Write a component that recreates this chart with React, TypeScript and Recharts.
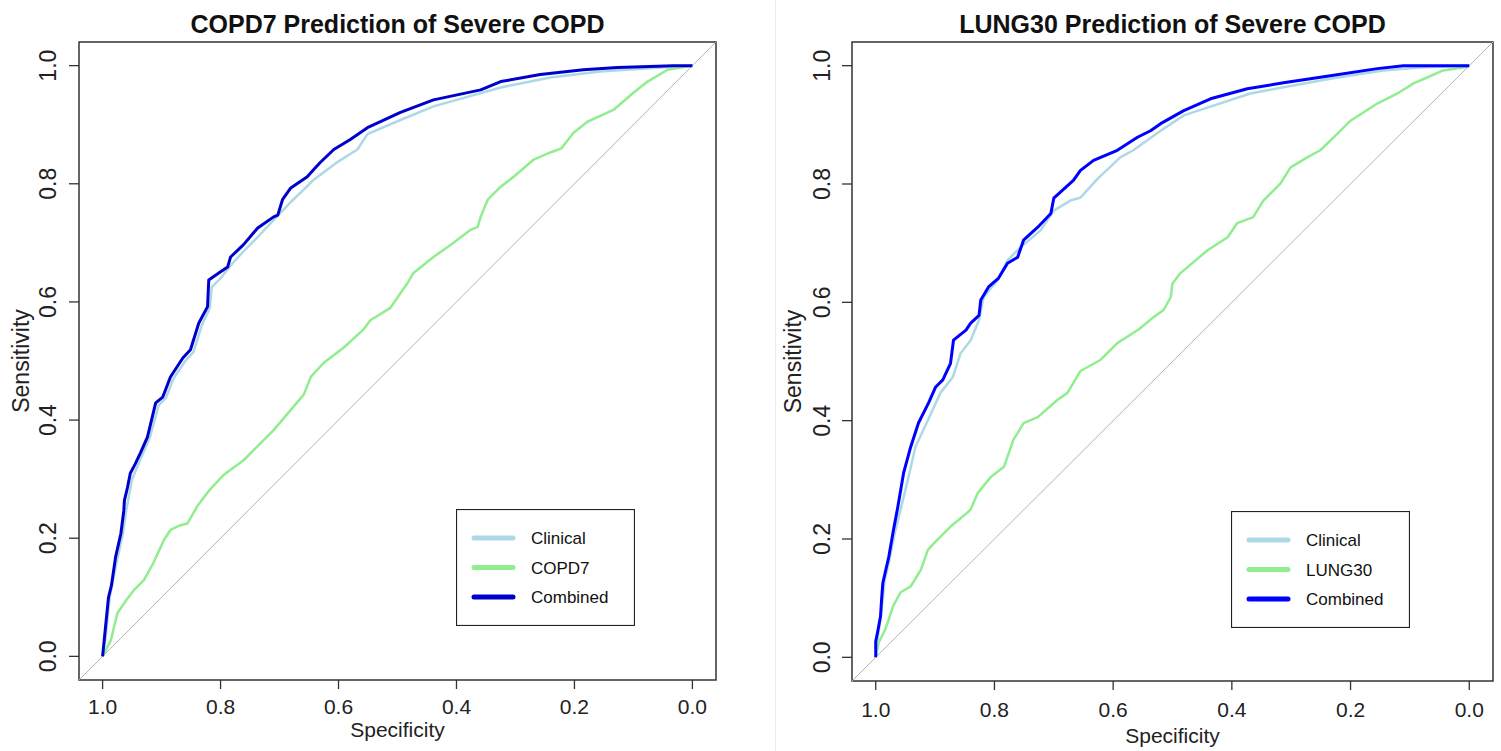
import React from 'react';
import { LineChart, Line, XAxis, YAxis, ReferenceLine, ReferenceArea, Legend } from 'recharts';

type Pt = [number, number]; // [specificity, sensitivity]

const specTicks = [1, 0.8, 0.6, 0.4, 0.2, 0];
const sensTicks = [0, 0.2, 0.4, 0.6, 0.8, 1];

// COPD7 panel
const copd7Clinical: Pt[] = [
  [1, 0], [0.995, 0.03], [0.988, 0.1], [0.975, 0.165], [0.966, 0.205], [0.96, 0.247],
  [0.95, 0.3], [0.933, 0.34], [0.92, 0.37], [0.905, 0.425], [0.893, 0.437], [0.88, 0.47],
  [0.86, 0.5], [0.846, 0.515], [0.832, 0.56], [0.818, 0.59], [0.815, 0.625], [0.8, 0.64],
  [0.78, 0.665], [0.757, 0.69], [0.735, 0.712], [0.698, 0.751], [0.68, 0.77], [0.659, 0.79],
  [0.642, 0.807], [0.6, 0.838], [0.568, 0.858], [0.551, 0.884], [0.495, 0.908], [0.439, 0.931],
  [0.325, 0.963], [0.241, 0.98], [0.156, 0.99], [0.032, 0.998], [0, 1],
];
const copd7Score: Pt[] = [
  [1, 0], [0.986, 0.027], [0.975, 0.073], [0.96, 0.095], [0.947, 0.112], [0.93, 0.129],
  [0.914, 0.158], [0.896, 0.197], [0.885, 0.214], [0.868, 0.222], [0.856, 0.225], [0.839, 0.255],
  [0.82, 0.28], [0.795, 0.307], [0.761, 0.332], [0.727, 0.366], [0.71, 0.383], [0.659, 0.443],
  [0.647, 0.473], [0.625, 0.497], [0.592, 0.522], [0.558, 0.553], [0.546, 0.569], [0.512, 0.59],
  [0.483, 0.632], [0.473, 0.649], [0.439, 0.676], [0.405, 0.7], [0.376, 0.722], [0.364, 0.727],
  [0.359, 0.744], [0.347, 0.773], [0.325, 0.795], [0.303, 0.812], [0.269, 0.841], [0.241, 0.853],
  [0.222, 0.86], [0.202, 0.886], [0.178, 0.905], [0.134, 0.925], [0.1, 0.954], [0.076, 0.973],
  [0.042, 0.993], [0, 1],
];
const copd7Combined: Pt[] = [
  [1, 0], [0.997, 0.03], [0.99, 0.1], [0.985, 0.12], [0.978, 0.168], [0.969, 0.208],
  [0.964, 0.247], [0.963, 0.264], [0.958, 0.285], [0.953, 0.31], [0.945, 0.325], [0.936, 0.344],
  [0.924, 0.371], [0.91, 0.429], [0.898, 0.439], [0.885, 0.473], [0.864, 0.505], [0.851, 0.519],
  [0.837, 0.564], [0.822, 0.592], [0.82, 0.637], [0.803, 0.649], [0.788, 0.659], [0.783, 0.676],
  [0.761, 0.697], [0.744, 0.717], [0.737, 0.725], [0.71, 0.744], [0.703, 0.747], [0.695, 0.773],
  [0.681, 0.793], [0.653, 0.812], [0.642, 0.824], [0.631, 0.836], [0.608, 0.858], [0.58, 0.875],
  [0.551, 0.895], [0.495, 0.921], [0.439, 0.942], [0.359, 0.959], [0.325, 0.973], [0.258, 0.985],
  [0.185, 0.993], [0.127, 0.997], [0.032, 1], [0, 1],
];

// LUNG30 panel
const lung30Clinical: Pt[] = [
  [1, 0], [0.997, 0.03], [0.99, 0.08], [0.985, 0.13], [0.978, 0.16], [0.968, 0.21],
  [0.958, 0.25], [0.946, 0.3], [0.933, 0.356], [0.912, 0.401], [0.891, 0.447], [0.87, 0.474],
  [0.857, 0.514], [0.84, 0.536], [0.826, 0.57], [0.818, 0.609], [0.795, 0.637], [0.778, 0.671],
  [0.756, 0.693], [0.722, 0.722], [0.7, 0.755], [0.672, 0.772], [0.655, 0.777], [0.626, 0.809],
  [0.588, 0.845], [0.566, 0.857], [0.52, 0.89], [0.481, 0.916], [0.369, 0.953], [0.234, 0.978],
  [0.145, 0.992], [0.083, 0.997], [0, 1],
];
const lung30Score: Pt[] = [
  [1, 0], [0.995, 0.025], [0.985, 0.045], [0.978, 0.064], [0.971, 0.086], [0.958, 0.11],
  [0.941, 0.12], [0.924, 0.148], [0.912, 0.182], [0.896, 0.199], [0.874, 0.221], [0.845, 0.245],
  [0.84, 0.25], [0.828, 0.278], [0.806, 0.305], [0.784, 0.322], [0.768, 0.368], [0.761, 0.379],
  [0.751, 0.396], [0.727, 0.406], [0.694, 0.435], [0.677, 0.447], [0.655, 0.484], [0.621, 0.503],
  [0.593, 0.531], [0.556, 0.555], [0.532, 0.575], [0.515, 0.587], [0.503, 0.609], [0.5, 0.632],
  [0.487, 0.649], [0.441, 0.688], [0.407, 0.71], [0.391, 0.734], [0.364, 0.744], [0.347, 0.772],
  [0.318, 0.801], [0.301, 0.828], [0.273, 0.845], [0.251, 0.857], [0.222, 0.885], [0.2, 0.907],
  [0.155, 0.936], [0.121, 0.953], [0.094, 0.97], [0.071, 0.98], [0.044, 0.992], [0.003, 0.998],
  [0, 1],
];
const lung30Combined: Pt[] = [
  [1, 0], [1, 0.027], [0.997, 0.042], [0.992, 0.069], [0.99, 0.1], [0.988, 0.126],
  [0.983, 0.148], [0.978, 0.17], [0.97, 0.216], [0.963, 0.253], [0.953, 0.312], [0.941, 0.356],
  [0.928, 0.396], [0.911, 0.43], [0.899, 0.457], [0.887, 0.469], [0.874, 0.497], [0.869, 0.536],
  [0.848, 0.553], [0.84, 0.565], [0.826, 0.578], [0.823, 0.604], [0.81, 0.626], [0.793, 0.641],
  [0.778, 0.666], [0.761, 0.676], [0.751, 0.705], [0.727, 0.727], [0.705, 0.75], [0.7, 0.776],
  [0.667, 0.806], [0.655, 0.823], [0.633, 0.84], [0.593, 0.857], [0.559, 0.879], [0.537, 0.89],
  [0.52, 0.902], [0.481, 0.924], [0.436, 0.944], [0.374, 0.961], [0.313, 0.971], [0.234, 0.983],
  [0.155, 0.995], [0.111, 1], [0, 1],
];

const FONT = '"Liberation Sans", Arial, Helvetica, sans-serif';
const LO = -0.04;
const HI = 1.04;

const toRows = (pts: Pt[]) => pts.map(([spec, sens]) => ({ spec, sens }));

interface Series {
  name: string;
  color: string;
  width: number;
  points: Pt[];
}

interface PanelProps {
  title: string;
  series: Series[];
  width: number;
  left: number;
  rightMargin: number;
  yAxisWidth: number;
  xAxisHeight: number;
  xTickMargin: number;
  yTickMargin: number;
  xLabelOffset: number;
  yLabelX: number;
  legendPos: { left: number; top: number };
}

function LegendBox({ series }: { series: Series[] }) {
  const w = 179;
  const h = 117;
  return (
    <svg width={w} height={h} style={{ display: 'block' }}>
      <rect x={0.5} y={0.5} width={w - 1} height={h - 1} fill="#fff" stroke="#222" strokeWidth={1.2} />
      {series.map((s, i) => {
        const y = 29 + i * 29.5;
        return (
          <g key={s.name}>
            <line x1={18} x2={57} y1={y} y2={y} stroke={s.color} strokeWidth={5} strokeLinecap="round" />
            <text x={75} y={y} dy="0.36em" fontSize={17} fontFamily={FONT} fill="#111">
              {s.name}
            </text>
          </g>
        );
      })}
    </svg>
  );
}

function RocPanel(p: PanelProps) {
  const boxLeft = p.yAxisWidth;
  const boxRight = p.width - p.rightMargin;
  const plotTop = 42;
  const plotBottom = 751 - p.xAxisHeight;

  const xTick = ({ x, y, payload }: any) => (
    <text x={x} y={y} dy="0.71em" textAnchor="middle" fontSize={21} fontFamily={FONT} fill="#222">
      {Number(payload.value).toFixed(1)}
    </text>
  );
  const yTick = ({ x, y, payload }: any) => (
    <text
      x={x}
      y={y}
      dy="0.36em"
      textAnchor="middle"
      transform={`rotate(-90, ${x}, ${y})`}
      fontSize={23}
      fontFamily={FONT}
      fill="#222"
    >
      {Number(payload.value).toFixed(1)}
    </text>
  );

  return (
    <div style={{ position: 'absolute', left: p.left, top: 0 }}>
      <div
        style={{
          position: 'absolute',
          left: boxLeft,
          width: boxRight - boxLeft,
          top: 12,
          textAlign: 'center',
          fontFamily: FONT,
          fontWeight: 'bold',
          fontSize: 25,
          lineHeight: '25px',
          color: '#111',
          whiteSpace: 'nowrap',
          zIndex: 2,
        }}
      >
        {p.title}
      </div>
      <LineChart
        width={p.width}
        height={751}
        margin={{ top: plotTop, right: p.rightMargin, bottom: 0, left: 0 }}
      >
        <XAxis
          type="number"
          dataKey="spec"
          domain={[LO, HI]}
          reversed
          allowDataOverflow
          ticks={specTicks}
          interval={0}
          height={p.xAxisHeight}
          axisLine={false}
          tickLine={{ stroke: '#333', strokeWidth: 1.3 }}
          tickSize={9}
          tickMargin={p.xTickMargin}
          tick={xTick}
          label={{
            content: () => (
              <text
                x={(boxLeft + boxRight) / 2}
                y={751 - p.xLabelOffset}
                textAnchor="middle"
                fontSize={21}
                fontFamily={FONT}
                fill="#222"
              >
                Specificity
              </text>
            ),
          }}
        />
        <YAxis
          type="number"
          dataKey="sens"
          domain={[LO, HI]}
          allowDataOverflow
          ticks={sensTicks}
          interval={0}
          width={p.yAxisWidth}
          axisLine={false}
          tickLine={{ stroke: '#333', strokeWidth: 1.3 }}
          tickSize={10}
          tickMargin={p.yTickMargin}
          tick={yTick}
          label={{
            content: () => {
              const cy = (plotTop + plotBottom) / 2;
              return (
                <text
                  x={p.yLabelX}
                  y={cy}
                  dy="0.36em"
                  textAnchor="middle"
                  transform={`rotate(-90, ${p.yLabelX}, ${cy})`}
                  fontSize={23}
                  fontFamily={FONT}
                  fill="#222"
                >
                  Sensitivity
                </text>
              );
            },
          }}
        />
        <ReferenceLine
          segment={[{ x: HI, y: LO }, { x: LO, y: HI }]}
          stroke="#b4b4b4"
          strokeWidth={1}
          ifOverflow="visible"
        />
        {p.series.map((s) => (
          <Line
            key={s.name}
            name={s.name}
            data={toRows(s.points)}
            dataKey="sens"
            type="linear"
            stroke={s.color}
            strokeWidth={s.width}
            strokeLinejoin="round"
            dot={false}
            activeDot={false}
            isAnimationActive={false}
          />
        ))}
        <ReferenceArea
          x1={LO}
          x2={HI}
          y1={LO}
          y2={HI}
          fill="none"
          stroke="#333"
          strokeWidth={1.5}
          ifOverflow="visible"
        />
        <Legend
          layout="vertical"
          align="center"
          verticalAlign="middle"
          wrapperStyle={{ left: p.legendPos.left, top: p.legendPos.top, width: 179, height: 117 }}
          content={() => <LegendBox series={p.series} />}
        />
      </LineChart>
    </div>
  );
}

const leftSeries: Series[] = [
  { name: 'Clinical', color: '#add8e6', width: 2.5, points: copd7Clinical },
  { name: 'COPD7', color: '#90ee90', width: 2.5, points: copd7Score },
  { name: 'Combined', color: '#0000cd', width: 3, points: copd7Combined },
];

const rightSeries: Series[] = [
  { name: 'Clinical', color: '#add8e6', width: 2.5, points: lung30Clinical },
  { name: 'LUNG30', color: '#90ee90', width: 2.5, points: lung30Score },
  { name: 'Combined', color: '#0000ff', width: 3, points: lung30Combined },
];

export default function App() {
  return (
    <div style={{ position: 'relative', width: 1501, height: 751, background: '#fff', overflow: 'hidden' }}>
      <style>{'body{margin:0;background:#fff}'}</style>
      <RocPanel
        title="COPD7 Prediction of Severe COPD"
        series={leftSeries}
        width={770}
        left={0}
        rightMargin={54}
        yAxisWidth={79}
        xAxisHeight={71}
        xTickMargin={10}
        yTickMargin={21}
        xLabelOffset={14}
        yLabelX={21}
        legendPos={{ left: 456, top: 509 }}
      />
      <div style={{ position: 'absolute', left: 775, top: 0, width: 1, height: 751, background: '#ececec' }} />
      <RocPanel
        title="LUNG30 Prediction of Severe COPD"
        series={rightSeries}
        width={725}
        left={776}
        rightMargin={8}
        yAxisWidth={76}
        xAxisHeight={70}
        xTickMargin={12}
        yTickMargin={20}
        xLabelOffset={8}
        yLabelX={17}
        legendPos={{ left: 455, top: 511 }}
      />
    </div>
  );
}
